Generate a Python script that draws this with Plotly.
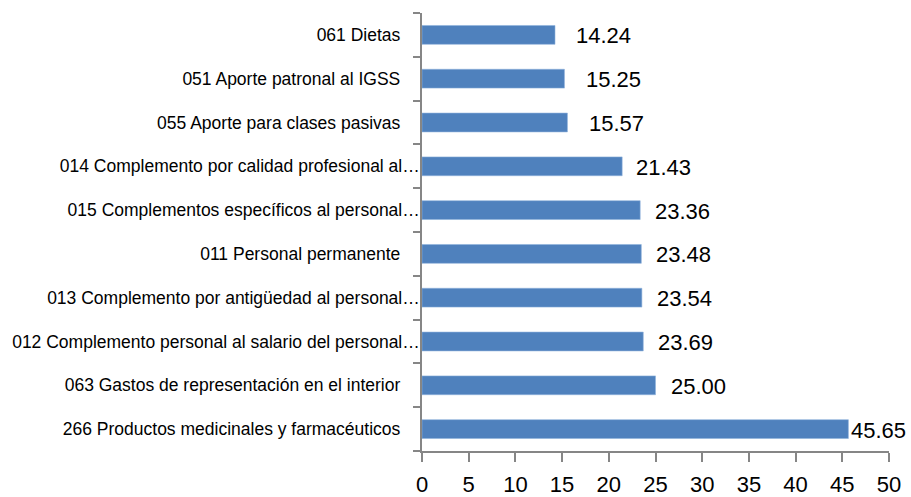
import plotly.graph_objects as go

# Data (top to bottom as displayed)
categories = [
    "061 Dietas",
    "051 Aporte patronal al IGSS",
    "055 Aporte para clases pasivas",
    "014 Complemento por calidad profesional al…",
    "015 Complementos específicos al personal…",
    "011 Personal permanente",
    "013 Complemento por antigüedad al personal…",
    "012 Complemento personal al salario del personal…",
    "063 Gastos de representación en el interior",
    "266 Productos medicinales y farmacéuticos",
]
values = [14.24, 15.25, 15.57, 21.43, 23.36, 23.48, 23.54, 23.69, 25.00, 45.65]
tick_values = [0, 5, 10, 15, 20, 25, 30, 35, 40, 45, 50]

# Style: pixel offsets of value labels from bar ends
label_shift = [19, 20, 20, 12, 13, 13, 13, 13, 13, 1]

FONT = "Liberation Sans, Arial, sans-serif"

# Display labels: untruncated ones sit further from the axis
tick_text = [c if c.endswith("…") else c + "\u00a0\u00a0\u00a0\u00a0" for c in categories]

fig = go.Figure()
fig.add_trace(go.Bar(
    x=values,
    y=categories,
    orientation="h",
    marker=dict(color="#4F81BD", line=dict(color="#8FB1DB", width=0.6)),
    hoverinfo="x+y",
))

for v, c, s in zip(values, categories, label_shift):
    fig.add_annotation(
        x=v, y=c, text=f"{v:.2f}", showarrow=False,
        xanchor="left", yanchor="middle", xshift=s, yshift=-1,
        font=dict(family=FONT, size=22, color="#000000"),
    )

fig.update_layout(
    width=911, height=497,
    margin=dict(l=422, r=22, t=13, b=46, autoexpand=False),
    paper_bgcolor="white", plot_bgcolor="white",
    showlegend=False,
    bargap=0.57,
    font=dict(family=FONT, color="#000000"),
)
fig.update_xaxes(
    range=[0, 50],
    tickvals=tick_values,
    ticktext=[str(t) for t in tick_values],
    showgrid=False, zeroline=False,
    showline=True, linecolor="#868686", linewidth=1.5,
    ticks="outside", ticklen=9, tickcolor="#868686", tickwidth=1.5,
    ticklabelstandoff=4,
    tickfont=dict(family=FONT, size=22, color="#000000"),
)
fig.update_yaxes(
    type="category",
    categoryorder="array", categoryarray=categories,
    autorange="reversed",
    tickvals=categories, ticktext=tick_text,
    tickson="boundaries",
    showgrid=False, zeroline=False,
    showline=True, linecolor="#868686", linewidth=1.5,
    ticks="outside", ticklen=7, tickcolor="#868686", tickwidth=1.5,
    ticklabelstandoff=-3,
    tickfont=dict(family=FONT, size=17.5, color="#000000"),
)

fig.write_html(
    "out.html",
    config={"displayModeBar": False},
    post_script="document.body.style.margin='0';document.body.style.overflow='hidden';",
)
